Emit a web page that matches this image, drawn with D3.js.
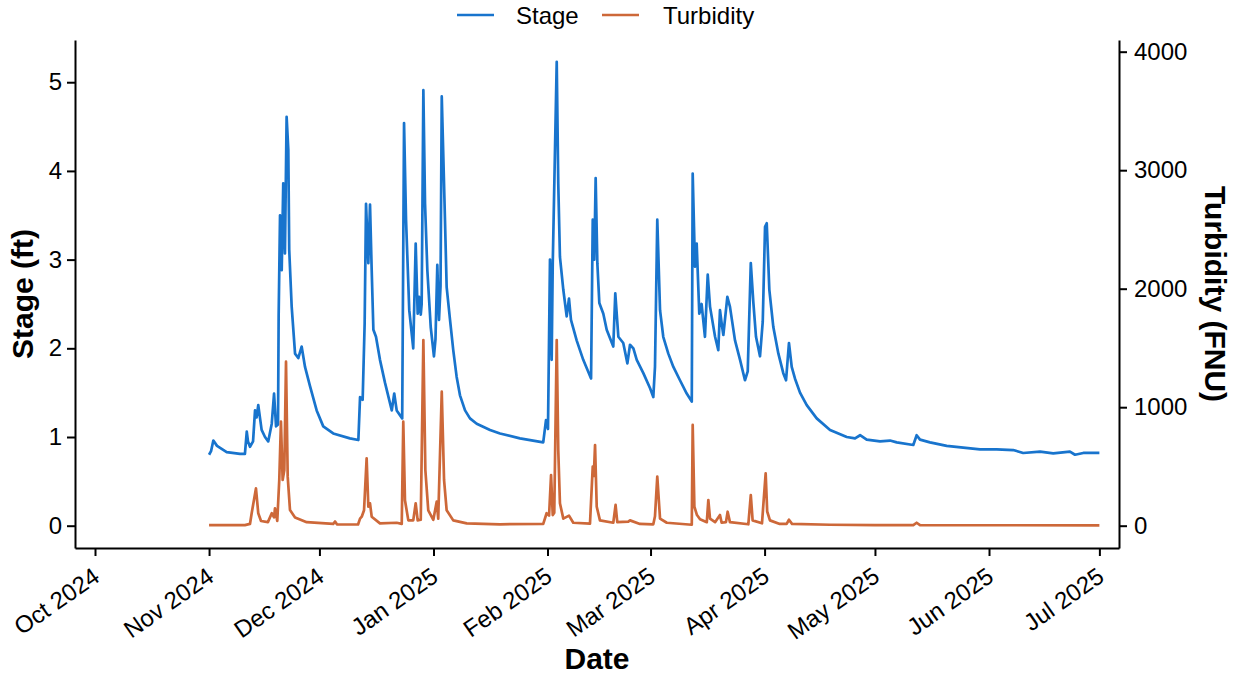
<!DOCTYPE html>
<html><head><meta charset="utf-8">
<script src="https://cdn.jsdelivr.net/npm/d3@7"></script>
<style>
body{margin:0;background:#fff}
svg{display:block}
text{font-family:"Liberation Sans", Arial, Helvetica, sans-serif;fill:#000}
</style>
</head><body>
<svg id="chart" width="1239" height="676"></svg>
<script>
// ---------- data ----------
const stageDates = [
"2024-11-01 00:00","2024-11-01 13:00","2024-11-02 04:00","2024-11-03 04:00","2024-11-05 19:00","2024-11-09 10:00","2024-11-10 18:00","2024-11-11 06:00","2024-11-11 14:00","2024-11-12 03:00",
"2024-11-12 23:00","2024-11-13 12:00","2024-11-13 22:00","2024-11-14 09:00","2024-11-15 07:00","2024-11-16 05:00","2024-11-17 02:00","2024-11-18 01:00","2024-11-18 16:00","2024-11-19 05:00",
"2024-11-19 18:00","2024-11-19 22:00","2024-11-20 07:00","2024-11-20 13:00","2024-11-20 18:00","2024-11-21 04:00","2024-11-21 15:00","2024-11-22 02:00","2024-11-22 13:00","2024-11-22 19:00",
"2024-11-23 11:00","2024-11-24 09:00","2024-11-25 06:00","2024-11-26 04:00","2024-11-27 02:00","2024-11-28 11:00","2024-11-30 06:00","2024-12-02 01:00","2024-12-04 18:00","2024-12-09 07:00",
"2024-12-11 14:00","2024-12-12 01:00","2024-12-12 18:00","2024-12-13 07:00","2024-12-13 16:00","2024-12-14 07:00","2024-12-14 18:00","2024-12-15 05:00","2024-12-15 16:00","2024-12-16 09:00",
"2024-12-17 11:00","2024-12-18 20:00","2024-12-20 16:00","2024-12-21 08:00","2024-12-22 00:00","2024-12-23 12:00","2024-12-24 00:00","2024-12-24 13:00","2024-12-25 10:00","2024-12-26 12:00",
"2024-12-27 04:00","2024-12-27 17:00","2024-12-28 02:00","2024-12-28 13:00","2024-12-28 19:00","2024-12-29 06:00","2024-12-29 17:00","2024-12-30 08:00","2024-12-31 06:00","2025-01-01 03:00",
"2025-01-01 13:00","2025-01-02 01:00","2025-01-02 12:00","2025-01-02 22:00","2025-01-03 06:00","2025-01-04 03:00","2025-01-04 14:00","2025-01-05 12:00","2025-01-06 09:00","2025-01-07 07:00",
"2025-01-08 05:00","2025-01-09 14:00","2025-01-10 22:00","2025-01-12 18:00","2025-01-16 09:00","2025-01-19 02:00","2025-01-24 12:00","2025-01-30 20:00","2025-01-31 14:00","2025-02-01 03:00",
"2025-02-01 16:00","2025-02-02 03:00","2025-02-02 10:00","2025-02-03 12:00","2025-02-03 22:00","2025-02-04 09:00","2025-02-05 07:00","2025-02-06 05:00","2025-02-06 20:00","2025-02-07 09:00",
"2025-02-08 22:00","2025-02-10 17:00","2025-02-12 20:00","2025-02-13 07:00","2025-02-13 17:00","2025-02-14 02:00","2025-02-14 13:00","2025-02-15 02:00","2025-02-16 04:00","2025-02-17 02:00",
"2025-02-18 21:00","2025-02-19 10:00","2025-02-20 06:00","2025-02-21 14:00","2025-02-22 17:00","2025-02-23 10:00","2025-02-24 08:00","2025-02-25 06:00","2025-02-27 01:00","2025-02-28 21:00",
"2025-03-01 18:00","2025-03-02 05:00","2025-03-02 20:00","2025-03-03 14:00","2025-03-04 11:00","2025-03-05 20:00","2025-03-07 05:00","2025-03-09 00:00","2025-03-10 20:00","2025-03-12 05:00",
"2025-03-12 11:00","2025-03-13 02:00","2025-03-13 13:00","2025-03-14 06:00","2025-03-14 21:00","2025-03-15 19:00","2025-03-16 13:00","2025-03-17 04:00","2025-03-18 13:00","2025-03-19 10:00",
"2025-03-19 21:00","2025-03-20 08:00","2025-03-20 19:00","2025-03-21 21:00","2025-03-22 14:00","2025-03-23 23:00","2025-03-25 08:00","2025-03-26 16:00","2025-03-27 10:00","2025-03-28 06:00",
"2025-03-28 23:00","2025-03-29 16:00","2025-03-30 18:00","2025-03-31 12:00","2025-04-01 03:00","2025-04-01 14:00","2025-04-02 07:00","2025-04-03 09:00","2025-04-04 18:00","2025-04-06 02:00",
"2025-04-06 20:00","2025-04-07 15:00","2025-04-08 09:00","2025-04-09 06:00","2025-04-10 15:00","2025-04-12 11:00","2025-04-15 04:00","2025-04-18 19:00","2025-04-23 08:00","2025-04-25 14:00",
"2025-04-26 23:00","2025-04-28 18:00","2025-05-02 09:00","2025-05-05 02:00","2025-05-06 22:00","2025-05-11 10:00","2025-05-12 08:00","2025-05-13 06:00","2025-05-15 23:00","2025-05-20 12:00",
"2025-05-25 00:00","2025-05-29 13:00","2025-06-03 02:00","2025-06-07 14:00","2025-06-10 07:00","2025-06-14 21:00","2025-06-18 11:00","2025-06-23 00:00","2025-06-24 09:00","2025-06-26 15:00",
"2025-07-01 00:00"
];
const stageValues = [
0.80,0.84,0.96,0.90,0.83,0.81,0.81,1.06,0.95,0.89,
0.95,1.30,1.22,1.36,1.08,1.00,0.95,1.15,1.49,1.12,
1.14,2.36,3.50,3.05,2.88,3.86,3.07,4.61,4.24,3.11,
2.47,1.94,1.89,2.02,1.79,1.57,1.30,1.12,1.04,0.985,
0.966,1.45,1.42,2.28,3.63,2.96,3.62,2.88,2.21,2.13,
1.87,1.61,1.30,1.49,1.30,1.21,4.54,3.45,2.43,2.00,
3.18,2.39,2.58,2.38,2.50,4.91,3.63,2.88,2.24,1.91,
2.10,2.94,2.32,2.70,4.84,3.45,2.69,2.32,1.98,1.68,
1.47,1.30,1.21,1.15,1.08,1.04,0.985,0.94,1.19,1.09,
3.00,1.87,2.95,5.23,3.86,3.03,2.66,2.36,2.56,2.32,
2.09,1.87,1.66,3.45,3.00,3.92,2.96,2.51,2.39,2.21,
2.02,2.62,2.13,2.06,1.83,2.04,2.00,1.87,1.72,1.55,
1.45,1.79,3.45,2.43,2.13,1.94,1.79,1.64,1.49,1.40,
3.97,2.92,3.18,2.39,2.50,2.13,2.83,2.47,2.13,1.98,
2.43,2.28,2.15,2.58,2.47,2.09,1.87,1.64,1.74,2.96,
2.51,2.13,1.91,2.30,3.37,3.41,2.66,2.24,1.94,1.72,
1.64,2.06,1.79,1.66,1.50,1.36,1.21,1.08,1.00,0.985,
1.02,0.97,0.95,0.96,0.94,0.91,1.02,0.97,0.94,0.90,
0.88,0.86,0.86,0.853,0.82,0.835,0.816,0.835,0.80,0.82,
0.82
];
const turbDates = [
"2024-11-01 00:00","2024-11-10 18:00","2024-11-12 03:00","2024-11-12 14:00","2024-11-13 18:00","2024-11-14 09:00","2024-11-15 03:00","2024-11-17 00:00","2024-11-18 01:00","2024-11-18 16:00",
"2024-11-18 22:00","2024-11-19 13:00","2024-11-20 02:00","2024-11-20 13:00","2024-11-21 00:00","2024-11-21 11:00","2024-11-21 22:00","2024-11-22 09:00","2024-11-23 00:00","2024-11-24 09:00",
"2024-11-27 13:00","2024-12-04 18:00","2024-12-05 06:00","2024-12-05 18:00","2024-12-11 12:00","2024-12-12 01:00","2024-12-12 12:00","2024-12-13 03:00","2024-12-13 20:00","2024-12-14 07:00",
"2024-12-14 18:00","2024-12-15 05:00","2024-12-17 11:00","2024-12-22 00:00","2024-12-23 09:00","2024-12-23 19:00","2024-12-24 06:00","2024-12-25 04:00","2024-12-26 12:00","2024-12-27 04:00",
"2024-12-27 17:00","2024-12-28 13:00","2024-12-29 06:00","2024-12-29 19:00","2024-12-30 14:00","2024-12-31 23:00","2025-01-01 21:00","2025-01-02 07:00","2025-01-03 06:00","2025-01-03 21:00",
"2025-01-04 14:00","2025-01-06 09:00","2025-01-10 01:00","2025-01-19 02:00","2025-01-30 20:00","2025-01-31 18:00","2025-02-01 10:00","2025-02-01 23:00","2025-02-02 10:00","2025-02-02 20:00",
"2025-02-03 12:00","2025-02-03 22:00","2025-02-04 09:00","2025-02-05 07:00","2025-02-06 20:00","2025-02-08 00:00","2025-02-12 13:00","2025-02-13 07:00","2025-02-13 14:00","2025-02-13 22:00",
"2025-02-14 09:00","2025-02-15 06:00","2025-02-18 21:00","2025-02-19 12:00","2025-02-19 23:00","2025-02-22 23:00","2025-02-23 10:00","2025-02-26 03:00","2025-03-01 18:00","2025-03-02 05:00",
"2025-03-02 20:00","2025-03-03 14:00","2025-03-05 10:00","2025-03-12 05:00","2025-03-12 11:00","2025-03-12 22:00","2025-03-13 15:00","2025-03-14 11:00","2025-03-16 07:00","2025-03-16 17:00",
"2025-03-17 04:00","2025-03-18 13:00","2025-03-19 21:00","2025-03-20 08:00","2025-03-21 12:00","2025-03-21 23:00","2025-03-22 14:00","2025-03-27 14:00","2025-03-28 06:00","2025-03-28 18:00",
"2025-03-31 07:00","2025-04-01 07:00","2025-04-01 17:00","2025-04-02 11:00","2025-04-05 03:00","2025-04-07 00:00","2025-04-07 15:00","2025-04-08 11:00","2025-04-18 19:00","2025-05-01 00:00",
"2025-05-11 10:00","2025-05-12 08:00","2025-05-13 06:00","2025-07-01 00:00"
];
const turbValues = [
5,5,15,105,315,105,40,30,105,70,
147,40,386,878,386,470,1384,414,132,70,
30,15,35,12,10,60,76,130,569,160,
189,76,20,25,15,878,215,45,45,189,
45,50,1567,470,130,50,203,60,1131,386,
130,45,20,12,15,105,85,428,90,110,
1567,639,189,60,85,25,18,498,420,681,
160,45,25,175,30,35,45,15,12,80,
414,60,25,8,850,160,90,55,30,217,
60,30,90,25,30,118,30,12,259,45,
20,442,120,45,15,15,50,15,8,5,
5,25,5,3
];
const xTickDates = ["2024-10-01","2024-11-01","2024-12-01","2025-01-01","2025-02-01","2025-03-01","2025-04-01","2025-05-01","2025-06-01","2025-07-01"];
const xTickLabels = ["Oct 2024","Nov 2024","Dec 2024","Jan 2025","Feb 2025","Mar 2025","Apr 2025","May 2025","Jun 2025","Jul 2025"];
const stageTicks = [0,1,2,3,4,5];
const turbTicks = [0,1000,2000,3000,4000];
const seriesNames = ["Stage","Turbidity"];
const seriesColors = ["#1874CD","#CD6839"];

// ---------- chart ----------
const svg = d3.select("#chart");
const pL = 75, pR = 1119, pT = 40, pB = 548;
const parse = d3.utcParse("%Y-%m-%d %H:%M");
const parseDay = d3.utcParse("%Y-%m-%d");

const x = d3.scaleUtc()
  .domain([new Date(Date.UTC(2024,8,25,13,30)), new Date(Date.UTC(2025,6,6,8,0))])
  .range([pL, pR]);
const yS = d3.scaleLinear().domain([-0.2514, 5.476]).range([pB, pT]);
const yT = d3.scaleLinear().domain([-188.2, 4098.7]).range([pB, pT]);

const stage = stageDates.map((d,i)=>({t:parse(d), v:stageValues[i]}));
const turb = turbDates.map((d,i)=>({t:parse(d), v:turbValues[i]}));

const lineS = d3.line().x(d=>x(d.t)).y(d=>yS(d.v));
const lineT = d3.line().x(d=>x(d.t)).y(d=>yT(d.v));

svg.append("path").datum(stage).attr("d", lineS)
  .attr("fill","none").attr("stroke", seriesColors[0]).attr("stroke-width",2.7).attr("stroke-linejoin","round");
svg.append("path").datum(turb).attr("d", lineT)
  .attr("fill","none").attr("stroke", seriesColors[1]).attr("stroke-width",2.7).attr("stroke-linejoin","round");

function styleAxis(g){
  g.attr("font-family", null).attr("font-size", null);
  g.select(".domain").attr("stroke","#000").attr("stroke-width",2);
  g.selectAll(".tick line").attr("stroke","#000").attr("stroke-width",2);
  g.selectAll(".tick text").attr("fill","#000").style("font-size","24px");
}

const xAxis = d3.axisBottom(x).tickValues(xTickDates.map(parseDay))
  .tickFormat((d,i)=>xTickLabels[i]).tickSize(8).tickSizeOuter(0);
const gx = svg.append("g").attr("transform",`translate(0,${pB})`).call(xAxis).call(styleAxis);
gx.selectAll(".tick text")
  .attr("x",0).attr("y",0).attr("dy","0.71em")
  .attr("text-anchor","end")
  .attr("transform","translate(-4,18) rotate(-35)");

const yAxisL = d3.axisLeft(yS).tickValues(stageTicks).tickFormat(d3.format("d"))
  .tickSize(8).tickPadding(5).tickSizeOuter(0);
svg.append("g").attr("transform",`translate(${pL},0)`).call(yAxisL).call(styleAxis);

const yAxisR = d3.axisRight(yT).tickValues(turbTicks).tickFormat(d3.format("d"))
  .tickSize(8).tickPadding(7).tickSizeOuter(0);
svg.append("g").attr("transform",`translate(${pR},0)`).call(yAxisR).call(styleAxis);

// axis titles
svg.append("text").text("Date")
  .attr("x",(pL+pR)/2).attr("y",669).attr("text-anchor","middle")
  .style("font-size","30px").style("font-weight","bold");
svg.append("text").text("Stage (ft)")
  .attr("transform",`translate(33,${(pT+pB)/2}) rotate(-90)`).attr("text-anchor","middle")
  .style("font-size","30px").style("font-weight","bold");
svg.append("text").text("Turbidity (FNU)")
  .attr("transform",`translate(1205,${(pT+pB)/2}) rotate(90)`).attr("text-anchor","middle")
  .style("font-size","30px").style("font-weight","bold");

// legend
const legX = [457, 602];
const legTextX = [516, 663];
seriesNames.forEach((n,i)=>{
  svg.append("line").attr("x1",legX[i]).attr("x2",legX[i]+37).attr("y1",15).attr("y2",15)
    .attr("stroke",seriesColors[i]).attr("stroke-width",2.7);
  svg.append("text").text(n).attr("x",legTextX[i]).attr("y",24).style("font-size","24px");
});
</script>
</body></html>
